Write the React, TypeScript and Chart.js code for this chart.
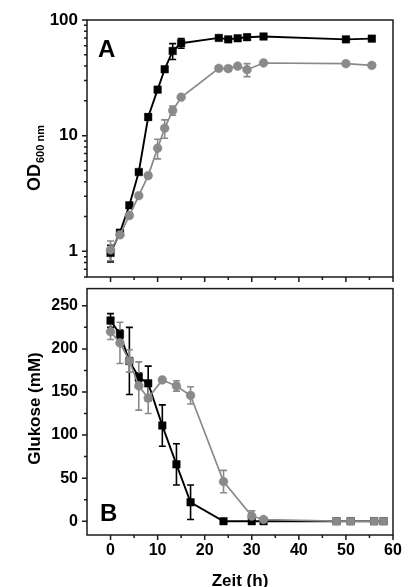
import React, { useEffect, useRef } from 'react';
import { Chart, registerables } from 'chart.js';

Chart.register(...registerables);

const FONT = '"Liberation Sans", Arial, Helvetica, sans-serif';
const BLACK = '#000000';
const GRAY = '#8a8a8a';

// ---- Panel A: OD600 (log scale) ----
const timeA = [0, 2, 4, 6, 8, 10, 11.5, 13.2, 15, 23, 25, 27, 29, 32.5, 50, 55.5];
const odBlack = [0.97, 1.45, 2.5, 4.85, 14.5, 25, 37.5, 54, 63, 70, 68, 69.5, 71, 72, 68, 69];
const odBlackErr = [0.16, 0.05, 0.1, 0.2, 0.8, 1, 1.5, 8.5, 6, 2, 2, 2, 4, 2, 2, 2];
const odGray = [1.03, 1.39, 2.04, 3.03, 4.52, 7.8, 11.6, 16.5, 21.5, 38.2, 38, 40, 37.2, 42.5, 42, 40.5];
const odGrayErr = [0.2, 0.05, 0.1, 0.1, 0.2, 1.5, 2.1, 1.5, 0.5, 1, 2, 1, 4.8, 1, 1, 1.5];

// ---- Panel B: Glukose (mM) ----
const timeB = [0, 2, 4, 6, 8, 11, 14, 17, 24, 30, 32.5, 48, 51, 56, 58];
const glcBlack = [233, 217, 186, 167, 160, 111, 66, 22, 0, 0, 0, 0, 0, 0, 0];
const glcBlackErr = [8, 5, 39, 5, 20, 24, 24, 20, 0, 0, 0, 0, 0, 0, 0];
const glcGray = [220, 207, 186, 157, 143, 164, 157, 146, 46, 6, 2, 0, 0, 0, 0];
const glcGrayErr = [9, 24, 13, 28, 18, 2, 6, 10, 13, 6, 1, 0, 0, 0, 0];

// ---- Ticks ----
const xTicks = [0, 10, 20, 30, 40, 50, 60];
const xMinor = [5, 15, 25, 35, 45, 55];
const odTicks = [1, 10, 100];
const odMinor = [0.6, 0.7, 0.8, 0.9, 2, 3, 4, 5, 6, 7, 8, 9, 20, 30, 40, 50, 60, 70, 80, 90];
const glcTicks = [0, 50, 100, 150, 200, 250];
const glcMinor = [25, 75, 125, 175, 225];

const pts = (t: number[], v: number[]) => t.map((x, i) => ({ x, y: v[i] }));

type ErrSpec = { times: number[]; vals: number[]; errs: number[]; color: string };

function errorBars(specs: ErrSpec[]) {
  return {
    id: 'errorBars',
    beforeDatasetsDraw(chart: any) {
      const ctx = chart.ctx;
      const xs = chart.scales.x;
      const ys = chart.scales.y;
      ctx.save();
      ctx.lineWidth = 1.6;
      specs.forEach((s) => {
        ctx.strokeStyle = s.color;
        ctx.beginPath();
        s.times.forEach((t, i) => {
          const e = s.errs[i];
          if (!e) return;
          const px = xs.getPixelForValue(t);
          const hi = ys.getPixelForValue(s.vals[i] + e);
          let loV = s.vals[i] - e;
          if (ys.type === 'logarithmic' && loV <= 0) loV = ys.min;
          const lo = ys.getPixelForValue(loV);
          ctx.moveTo(px, hi);
          ctx.lineTo(px, lo);
          ctx.moveTo(px - 3.5, hi);
          ctx.lineTo(px + 3.5, hi);
          ctx.moveTo(px - 3.5, lo);
          ctx.lineTo(px + 3.5, lo);
        });
        ctx.stroke();
      });
      ctx.restore();
    },
  };
}

function frame(yMajor: number[], yMinor: number[]) {
  return {
    id: 'frame',
    afterDraw(chart: any) {
      const ctx = chart.ctx;
      const { left, right, top, bottom } = chart.chartArea;
      const xs = chart.scales.x;
      const ys = chart.scales.y;
      ctx.save();
      ctx.strokeStyle = '#1a1a1a';
      ctx.lineWidth = 1.5;
      ctx.strokeRect(left, top, right - left, bottom - top);
      ctx.beginPath();
      yMajor.forEach((v) => {
        const y = ys.getPixelForValue(v);
        ctx.moveTo(left - 5, y);
        ctx.lineTo(left, y);
      });
      yMinor.forEach((v) => {
        const y = ys.getPixelForValue(v);
        ctx.moveTo(left - 3, y);
        ctx.lineTo(left, y);
      });
      xTicks.forEach((v) => {
        const x = xs.getPixelForValue(v);
        ctx.moveTo(x, bottom);
        ctx.lineTo(x, bottom + 5);
      });
      xMinor.forEach((v) => {
        const x = xs.getPixelForValue(v);
        ctx.moveTo(x, bottom);
        ctx.lineTo(x, bottom + 3);
      });
      ctx.stroke();
      ctx.restore();
    },
  };
}

const textA = {
  id: 'textA',
  afterDraw(chart: any) {
    const ctx = chart.ctx;
    ctx.save();
    ctx.fillStyle = '#000';
    ctx.textBaseline = 'alphabetic';
    ctx.textAlign = 'left';
    ctx.font = `bold 24px ${FONT}`;
    ctx.fillText('A', 98, 57);
    ctx.translate(40, 191);
    ctx.rotate(-Math.PI / 2);
    ctx.font = `bold 18px ${FONT}`;
    ctx.fillText('OD', 0, 0);
    const w = ctx.measureText('OD').width;
    ctx.font = `bold 11px ${FONT}`;
    ctx.fillText('600 nm', w + 1, 4);
    ctx.restore();
  },
};

const textB = {
  id: 'textB',
  afterDraw(chart: any) {
    const ctx = chart.ctx;
    ctx.save();
    ctx.fillStyle = '#000';
    ctx.textBaseline = 'alphabetic';
    ctx.textAlign = 'left';
    ctx.font = `bold 24px ${FONT}`;
    ctx.fillText('B', 100, 251);
    ctx.font = `bold 17px ${FONT}`;
    ctx.textAlign = 'center';
    ctx.fillText('Zeit (h)', 240, 315.5);
    ctx.translate(40, 138.5);
    ctx.rotate(-Math.PI / 2);
    ctx.fillText('Glukose (mM)', 0, 0);
    ctx.restore();
  },
};

const tickFont = { family: FONT, size: 16, weight: 'bold' as const };

function grayDs(data: any[], radiusStyles?: any) {
  return {
    label: 'gray',
    data,
    borderColor: GRAY,
    backgroundColor: GRAY,
    pointBackgroundColor: GRAY,
    pointBorderColor: GRAY,
    pointStyle: radiusStyles ? radiusStyles.style : 'circle',
    pointRadius: radiusStyles ? radiusStyles.radius : 4.4,
    pointBorderWidth: 0.5,
    borderWidth: 1.7,
  };
}

function blackDs(data: any[]) {
  return {
    label: 'black',
    data,
    borderColor: BLACK,
    backgroundColor: BLACK,
    pointBackgroundColor: BLACK,
    pointBorderColor: BLACK,
    pointStyle: 'rect',
    pointRadius: 5.3,
    pointBorderWidth: 0.5,
    borderWidth: 1.9,
  };
}

export default function App() {
  const refA = useRef<HTMLCanvasElement>(null);
  const refB = useRef<HTMLCanvasElement>(null);

  useEffect(() => {
    const chartA = new Chart(refA.current as HTMLCanvasElement, {
      type: 'line',
      data: {
        datasets: [grayDs(pts(timeA, odGray)), blackDs(pts(timeA, odBlack))] as any,
      },
      options: {
        responsive: false,
        animation: false,
        layout: { padding: { top: 20, right: 27, bottom: 23, left: 0 } },
        plugins: { legend: { display: false }, tooltip: { enabled: false } },
        scales: {
          x: { type: 'linear', min: -5, max: 60, display: false },
          y: {
            type: 'logarithmic',
            min: 0.6,
            max: 100,
            afterFit: (s: any) => {
              s.width = 87;
            },
            afterBuildTicks: (s: any) => {
              s.ticks = odTicks.map((v) => ({ value: v }));
            },
            ticks: { font: { family: FONT, size: 17, weight: 'bold' }, color: '#000', padding: 9, callback: (v: any) => String(v) },
            grid: { display: false, drawTicks: false },
            border: { display: false },
          },
        },
      } as any,
      plugins: [
        errorBars([
          { times: timeA, vals: odBlack, errs: odBlackErr, color: BLACK },
          { times: timeA, vals: odGray, errs: odGrayErr, color: GRAY },
        ]),
        frame(odTicks, odMinor),
        textA,
      ],
    });

    const grayStyles = {
      style: timeB.map((t) => (t >= 48 ? 'rect' : 'circle')),
      radius: timeB.map((t) => (t >= 48 ? 5.3 : 4.4)),
    };

    const chartB = new Chart(refB.current as HTMLCanvasElement, {
      type: 'line',
      data: {
        datasets: [grayDs(pts(timeB, glcGray), grayStyles), blackDs(pts(timeB, glcBlack))] as any,
      },
      options: {
        responsive: false,
        animation: false,
        layout: { padding: { top: 7, right: 27, bottom: 0, left: 0 } },
        plugins: { legend: { display: false }, tooltip: { enabled: false } },
        scales: {
          x: {
            type: 'linear',
            min: -5,
            max: 60,
            afterFit: (s: any) => {
              s.height = 52;
            },
            afterBuildTicks: (s: any) => {
              s.ticks = xTicks.map((v) => ({ value: v }));
            },
            ticks: { font: tickFont, color: '#000', padding: 6, maxRotation: 0, autoSkip: false },
            grid: { display: false, drawTicks: false },
            border: { display: false },
          },
          y: {
            type: 'linear',
            min: -16,
            max: 270,
            afterFit: (s: any) => {
              s.width = 87;
            },
            afterBuildTicks: (s: any) => {
              s.ticks = glcTicks.map((v) => ({ value: v }));
            },
            ticks: { font: tickFont, color: '#000', padding: 9 },
            grid: { display: false, drawTicks: false },
            border: { display: false },
          },
        },
      } as any,
      plugins: [
        errorBars([
          { times: timeB, vals: glcBlack, errs: glcBlackErr, color: BLACK },
          { times: timeB, vals: glcGray, errs: glcGrayErr, color: GRAY },
        ]),
        frame(glcTicks, glcMinor),
        textB,
      ],
    });

    return () => {
      chartA.destroy();
      chartB.destroy();
    };
  }, []);

  return (
    <div style={{ position: 'absolute', left: 0, top: 0, width: 420, height: 587, background: '#fff' }}>
      <canvas ref={refA} width={420} height={300} style={{ position: 'absolute', left: 0, top: 0 }} />
      <canvas ref={refB} width={420} height={317} style={{ position: 'absolute', left: 0, top: 270 }} />
    </div>
  );
}
